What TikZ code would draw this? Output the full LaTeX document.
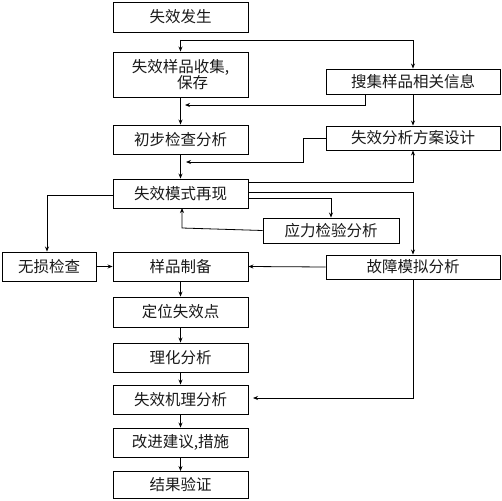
\documentclass[tikz,border=0pt]{standalone}
\usepackage{fontspec}
\newfontfamily\cjk{Noto Sans CJK SC}
\usetikzlibrary{arrows.meta}
\begin{document}
\begin{tikzpicture}[x=1pt,y=-1pt,
  box/.style={draw=black, line width=0.9pt, inner sep=0pt, align=center,
    font=\cjk\fontsize{15.5}{16}\selectfont, text=black!90},
  conn/.style={line width=0.8pt, -{Stealth[length=5pt,width=4pt]}},
  plain/.style={line width=0.8pt}]
\useasboundingbox (0,0) rectangle (502,500);
% main column
\node[box, minimum width=135pt, minimum height=30pt] (n1) at (180.5,17) {失效发生};
\node[box, minimum width=135pt, minimum height=45pt] (n2) at (180.5,74.5) {失效样品收集,\\\hspace*{24pt}保存};
\node[box, minimum width=135pt, minimum height=29pt] (n3) at (180.5,139.5) {初步检查分析};
\node[box, minimum width=135pt, minimum height=29pt] (n4) at (180.5,193.5) {失效模式再现};
\node[box, minimum width=135pt, minimum height=29pt] (n5) at (180.5,266.5) {样品制备};
\node[box, minimum width=135pt, minimum height=30pt] (n6) at (180.5,312) {定位失效点};
\node[box, minimum width=135pt, minimum height=29pt] (n7) at (180.5,357.5) {理化分析};
\node[box, minimum width=135pt, minimum height=29pt] (n8) at (180.5,399.5) {失效机理分析};
\node[box, minimum width=135pt, minimum height=29pt] (n9) at (180.5,442.5) {改进建议,措施};
\node[box, minimum width=135pt, minimum height=27pt] (n10) at (180.5,485) {结果验证};
% right column
\node[box, minimum width=174pt, minimum height=25pt] (r1) at (413,81.5) {搜集样品相关信息};
\node[box, minimum width=174pt, minimum height=24pt] (r2) at (413,138) {失效分析方案设计};
\node[box, minimum width=174pt, minimum height=24pt] (r3) at (413,267) {故障模拟分析};
\node[box, minimum width=136pt, minimum height=25pt] (s1) at (331,230.5) {应力检验分析};
\node[box, minimum width=94pt, minimum height=29pt] (w1) at (49,266.5) {无损检查};
% junction coordinates
\coordinate (j1) at (180.5,40);
\coordinate (j2) at (413,40);
\coordinate (j3) at (185,105);
\coordinate (j4) at (186,162);
\coordinate (j5) at (253,398);
% connectors
\draw[conn] (j1) -- (n2.north);
\draw[conn] (j1) -- (j2) -- (r1.north);
\draw[conn] (n2.south) -- (n3.north);
\draw[conn] (r1.south -| 365,0) -- (365,105) -- (j3);
\draw[conn] (r1.south) -- (r2.north);
\draw[conn] (r2.west) -- (303,138) -- (303,162) -- (j4);
\draw[conn] (n3.south) -- (n4.north);
\draw[conn] (n4.east |- 0,182) -- (413,182) -- (r2.south);
\draw[conn] (n4.east |- 0,192) -- (413,192) -- (r3.north);
\draw[conn] (n4.east |- 0,198) -- (331,198) -- (s1.north);
\draw[conn] (s1.west) -- (182,228) -- (182,208);
\draw[conn] (n4.west |- 0,195) -- (47,195) -- (w1.north -| 47,0);
\draw[conn] (w1.east) -- (n5.west);
\draw[conn] (r3.west) -- (n5.east);
\draw[conn] (n5.south) -- (n6.north);
\draw[conn] (n6.south) -- (n7.north);
\draw[conn] (n7.south) -- (n8.north);
\draw[conn] (n8.south) -- (n9.north);
\draw[conn] (n9.south) -- (n10.north);
\draw[conn] (r3.south) -- (413,398) -- (j5);
\end{tikzpicture}
\end{document}
